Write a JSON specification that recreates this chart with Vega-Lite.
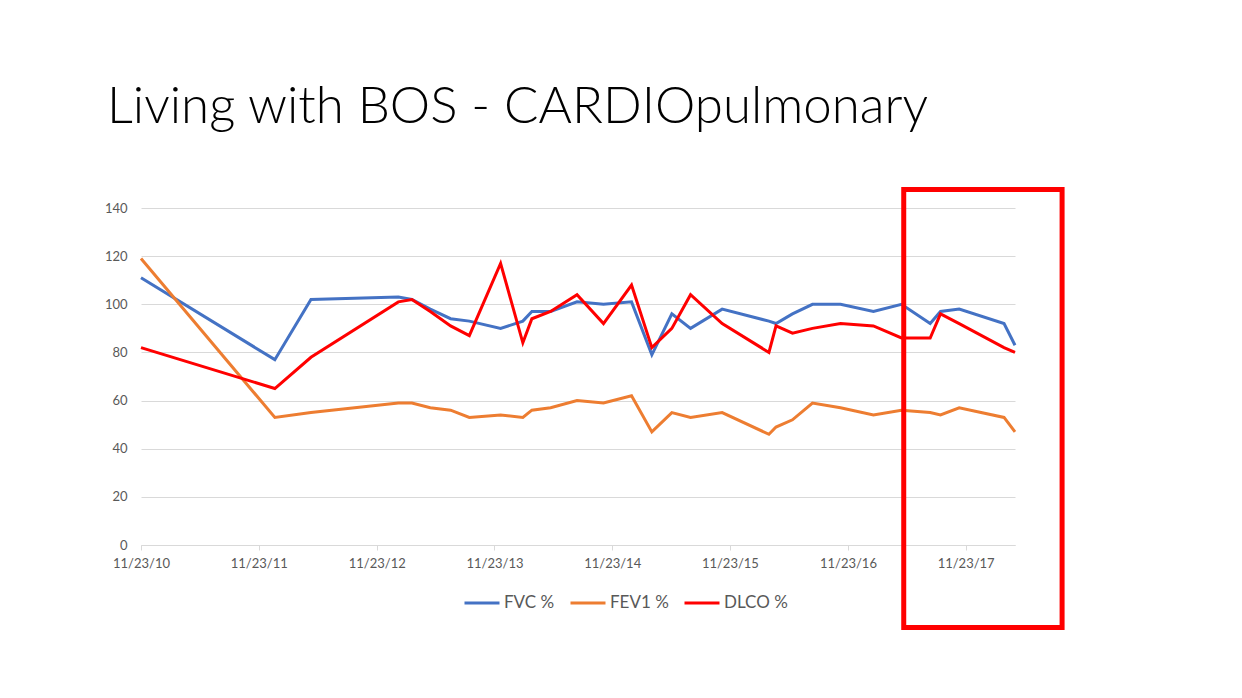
{
  "$schema": "https://vega.github.io/schema/vega-lite/v6.json",
  "autosize": {"type": "none"},
  "width": 874,
  "height": 337,
  "padding": {"left": 141, "top": 208, "right": 227, "bottom": 153},
  "background": "white",
  "title": {
    "text": "Living with BOS - CARDIOpulmonary",
    "anchor": "start",
    "frame": "group",
    "dx": -34,
    "offset": 13,
    "baseline": "alphabetic",
    "font": "Lato",
    "fontSize": 51,
    "fontWeight": 300,
    "color": "#000000"
  },
  "config": {
    "view": {"stroke": null},
    "axis": {"labelFont": "Lato", "labelFontSize": 13, "labelColor": "#595959", "gridColor": "#D9D9D9", "gridWidth": 1}
  },
  "datasets": {
    "pft": [
      {"date": "2010-11-23", "FVC %": 111, "FEV1 %": 119, "DLCO %": 82},
      {"date": "2012-01-12", "FVC %": 77, "FEV1 %": 53, "DLCO %": 65},
      {"date": "2012-05-03", "FVC %": 102, "FEV1 %": 55, "DLCO %": 78},
      {"date": "2013-01-29", "FVC %": 103, "FEV1 %": 59, "DLCO %": 101},
      {"date": "2013-03-12", "FVC %": 102, "FEV1 %": 59, "DLCO %": 102},
      {"date": "2013-05-08", "FVC %": 98, "FEV1 %": 57, "DLCO %": 97},
      {"date": "2013-07-10", "FVC %": 94, "FEV1 %": 56, "DLCO %": 91},
      {"date": "2013-09-06", "FVC %": 93, "FEV1 %": 53, "DLCO %": 87},
      {"date": "2013-12-12", "FVC %": 90, "FEV1 %": 54, "DLCO %": 117},
      {"date": "2014-02-19", "FVC %": 93, "FEV1 %": 53, "DLCO %": 84},
      {"date": "2014-03-19", "FVC %": 97, "FEV1 %": 56, "DLCO %": 94},
      {"date": "2014-05-16", "FVC %": 97, "FEV1 %": 57, "DLCO %": 97},
      {"date": "2014-08-06", "FVC %": 101, "FEV1 %": 60, "DLCO %": 104},
      {"date": "2014-10-27", "FVC %": 100, "FEV1 %": 59, "DLCO %": 92},
      {"date": "2015-01-22", "FVC %": 101, "FEV1 %": 62, "DLCO %": 108},
      {"date": "2015-03-26", "FVC %": 79, "FEV1 %": 47, "DLCO %": 82},
      {"date": "2015-05-27", "FVC %": 96, "FEV1 %": 55, "DLCO %": 90},
      {"date": "2015-07-24", "FVC %": 90, "FEV1 %": 53, "DLCO %": 104},
      {"date": "2015-10-30", "FVC %": 98, "FEV1 %": 55, "DLCO %": 92},
      {"date": "2016-03-23", "FVC %": 93, "FEV1 %": 46, "DLCO %": 80},
      {"date": "2016-04-14", "FVC %": 92, "FEV1 %": 49, "DLCO %": 91},
      {"date": "2016-06-04", "FVC %": 96, "FEV1 %": 52, "DLCO %": 88},
      {"date": "2016-08-05", "FVC %": 100, "FEV1 %": 59, "DLCO %": 90},
      {"date": "2016-10-31", "FVC %": 100, "FEV1 %": 57, "DLCO %": 92},
      {"date": "2017-02-10", "FVC %": 97, "FEV1 %": 54, "DLCO %": 91},
      {"date": "2017-05-08", "FVC %": 100, "FEV1 %": 56, "DLCO %": 86},
      {"date": "2017-08-05", "FVC %": 92, "FEV1 %": 55, "DLCO %": 86},
      {"date": "2017-09-06", "FVC %": 97, "FEV1 %": 54, "DLCO %": 96},
      {"date": "2017-11-03", "FVC %": 98, "FEV1 %": 57, "DLCO %": 92},
      {"date": "2018-03-22", "FVC %": 92, "FEV1 %": 53, "DLCO %": 82},
      {"date": "2018-04-25", "FVC %": 83, "FEV1 %": 47, "DLCO %": 80}
    ],
    "highlight": [
      {"start": "2017-05-15", "end": "2018-09-18", "top": 147.7, "bottom": -34.3}
    ]
  },
  "layer": [
    {
      "data": {"name": "pft"},
      "transform": [
        {"fold": ["FVC %", "FEV1 %", "DLCO %"], "as": ["series", "value"]}
      ],
      "mark": {"type": "line", "strokeJoin": "miter"},
      "encoding": {
        "x": {
          "field": "date",
          "type": "temporal",
          "scale": {"type": "utc", "domain": [{"year": 2010, "month": 11, "date": 23, "utc": true}, {"year": 2018, "month": 4, "date": 25, "utc": true}]},
          "axis": {
            "title": null,
            "format": "%m/%d/%y",
            "grid": false,
            "values": [
              {"year": 2010, "month": 11, "date": 23, "utc": true},
              {"year": 2011, "month": 11, "date": 23, "utc": true},
              {"year": 2012, "month": 11, "date": 23, "utc": true},
              {"year": 2013, "month": 11, "date": 23, "utc": true},
              {"year": 2014, "month": 11, "date": 23, "utc": true},
              {"year": 2015, "month": 11, "date": 23, "utc": true},
              {"year": 2016, "month": 11, "date": 23, "utc": true},
              {"year": 2017, "month": 11, "date": 23, "utc": true}
            ],
            "domainColor": "#D9D9D9",
            "domainWidth": 1,
            "tickColor": "#D9D9D9",
            "tickSize": 5,
            "labelPadding": 7,
            "labelFlush": false,
            "labelOverlap": false
          }
        },
        "y": {
          "field": "value",
          "type": "quantitative",
          "scale": {"domain": [0, 140], "nice": false, "zero": true},
          "axis": {"title": null, "values": [0, 20, 40, 60, 80, 100, 120, 140], "domain": false, "ticks": false, "labelPadding": 14}
        },
        "color": {
          "field": "series",
          "type": "nominal",
          "sort": ["FVC %", "FEV1 %", "DLCO %"],
          "scale": {"domain": ["FVC %", "FEV1 %", "DLCO %"], "range": ["#4472C4", "#ED7D31", "#FF0000"]},
          "legend": {
            "title": null,
            "orient": "none",
            "direction": "horizontal",
            "legendX": 322,
            "legendY": 376,
            "symbolType": "stroke",
            "symbolSize": 1225,
            "symbolStrokeWidth": 3,
            "labelFont": "Lato",
            "labelFontSize": 17,
            "labelColor": "#595959",
            "labelOffset": 3,
            "columnPadding": 9
          }
        },
        "strokeWidth": {
          "field": "series",
          "type": "nominal",
          "scale": {"domain": ["FVC %", "FEV1 %", "DLCO %"], "range": [3, 3, 4]},
          "legend": null
        }
      }
    },
    {
      "data": {"name": "highlight"},
      "mark": {"type": "rect", "fill": null, "fillOpacity": 0, "stroke": "#FF0000", "strokeWidth": 5, "clip": false},
      "encoding": {
        "x": {"field": "start", "type": "temporal"},
        "x2": {"field": "end"},
        "y": {"field": "top", "type": "quantitative"},
        "y2": {"field": "bottom"}
      }
    }
  ]
}
